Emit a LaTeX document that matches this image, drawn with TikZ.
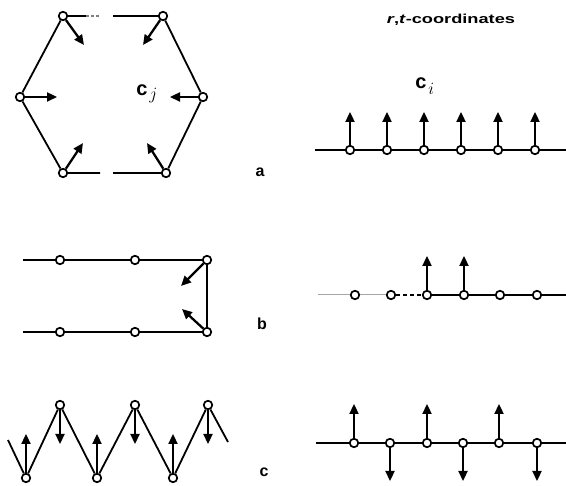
\documentclass[tikz,border=0pt]{standalone}
\usepackage{fontspec}
\setmainfont{Liberation Sans}
\usetikzlibrary{arrows.meta,positioning}

\begin{document}
\begin{tikzpicture}[x=1pt, y=-1pt, >={Triangle[length=10pt,width=9pt]},
    site/.style={circle, draw, fill=white, line width=1.7pt, inner sep=0pt, minimum size=8.5pt},
    bond/.style={line width=1.8pt},
    faint/.style={line width=1pt, gray!70},
    spin/.style={line width=2.3pt, ->},
    lbl/.style={font=\bfseries\fontsize{16}{16}\selectfont},
    vec/.style={font=\bfseries\fontsize{20}{20}\selectfont, inner sep=0pt}]
  \useasboundingbox (0,0) rectangle (566,486);

  % (a) hexagonal ring
  \node [site] (h1) at (63,16) {};
  \node [site] (h2) at (163,16) {};
  \node [site] (h3) at (203,97) {};
  \node [site] (h4) at (166,173) {};
  \node [site] (h5) at (63,173) {};
  \node [site] (h6) at (20,97) {};
  \coordinate (ht1) at (86,16);
  \coordinate (ht2) at (100,16);
  \coordinate (ht3) at (113,16);
  \coordinate (hb1) at (100,173);
  \coordinate (hb2) at (113,173);
  \draw [bond] (h1) -- (ht1);
  \draw [bond, gray, dash pattern=on 3pt off 2pt] (ht1) -- (ht2);
  \draw [bond] (ht3) -- (h2) -- (h3) -- (h4) -- (hb2);
  \draw [bond] (hb1) -- (h5) -- (h6) -- (h1);
  \coordinate (s1) at (84,45);
  \coordinate (s2) at (143,45);
  \coordinate (s3) at (170,97);
  \coordinate (s4) at (147,143);
  \coordinate (s5) at (83,143);
  \coordinate (s6) at (57,97);
  \foreach \i in {1,...,6}
    \draw [spin] (h\i) -- (s\i);
  \node [vec] (cj) at (142,90) {c};
  \node [right=-2pt of cj.south east, anchor=west, font=\fontsize{16}{16}\selectfont] (cjs) {$j$};
  \node [lbl] (la) at (260,172) {a};

  % (a) r,t-coordinates
  \node [font=\bfseries\fontsize{13}{13}\selectfont, xscale=1.4] (title) at (451,20) {\textit{r},\textit{t}-coordinates};
  \node [vec] (ci) at (421,83) {c};
  \node [right=-2pt of ci.south east, anchor=west, font=\fontsize{16}{16}\selectfont] (cis) {$i$};
  \coordinate (al) at (315,150);
  \coordinate (ar) at (566,150);
  \foreach \i/\x in {1/350,2/387,3/424,4/461,5/498,6/535} {
    \node [site] (a\i) at (\x,150) {};
    \coordinate (ua\i) at (\x,112);
  }
  \draw [bond] (al) -- (a1) -- (a2) -- (a3) -- (a4) -- (a5) -- (a6) -- (ar);
  \foreach \i in {1,...,6}
    \draw [spin] (a\i) -- (ua\i);

  % (b) folded chain
  \foreach \i/\x in {1/60,2/135,3/207} {
    \node [site] (bt\i) at (\x,260) {};
    \node [site] (bb\i) at (\x,332) {};
  }
  \coordinate (btl) at (23,260);
  \coordinate (bbl) at (23,332);
  \draw [bond] (btl) -- (bt1) -- (bt2) -- (bt3) -- (bb3) -- (bb2) -- (bb1) -- (bbl);
  \coordinate (ub1) at (181,286);
  \coordinate (ub2) at (182,309);
  \draw [spin] (bt3) -- (ub1);
  \draw [spin] (bb3) -- (ub2);
  \node [lbl] (lb) at (262,324) {b};

  % (b) r,t-coordinates
  \coordinate (bl) at (318,295);
  \coordinate (br) at (566,295);
  \foreach \i/\x in {1/355,2/391,3/427,4/464,5/500,6/537}
    \node [site] (b\i) at (\x,295) {};
  \draw [faint] (bl) -- (b1) -- (b2);
  \draw [bond, dash pattern=on 4pt off 3pt] (b2) -- (b3);
  \draw [bond] (b3) -- (b4) -- (b5) -- (b6) -- (br);
  \coordinate (vb3) at (427,256);
  \coordinate (vb4) at (464,256);
  \draw [spin] (b3) -- (vb3);
  \draw [spin] (b4) -- (vb4);

  % (c) zigzag chain
  \foreach \i/\x in {1/60,2/135,3/208}
    \node [site] (zt\i) at (\x,405) {};
  \foreach \i/\x in {1/26,2/97,3/173}
    \node [site] (zb\i) at (\x,478) {};
  \coordinate (zl) at (8,440);
  \coordinate (zr) at (228,442);
  \draw [bond] (zl) -- (zb1) -- (zt1) -- (zb2) -- (zt2) -- (zb3) -- (zt3) -- (zr);
  \foreach \i/\x in {1/60,2/135,3/208} {
    \coordinate (dz\i) at (\x,444);
    \draw [spin] (zt\i) -- (dz\i);
  }
  \foreach \i/\x in {1/26,2/97,3/173} {
    \coordinate (uz\i) at (\x,434);
    \draw [spin] (zb\i) -- (uz\i);
  }
  \node [lbl] (lc) at (264,472) {c};

  % (c) r,t-coordinates
  \coordinate (cl) at (316,443);
  \coordinate (cr) at (566,443);
  \foreach \i/\x in {1/354,2/390,3/427,4/463,5/499,6/537}
    \node [site] (c\i) at (\x,443) {};
  \draw [bond] (cl) -- (c1) -- (c2) -- (c3) -- (c4) -- (c5) -- (c6) -- (cr);
  \foreach \i/\x in {1/354,3/427,5/499} {
    \coordinate (uc\i) at (\x,404);
    \draw [spin] (c\i) -- (uc\i);
  }
  \foreach \i/\x in {2/390,4/463,6/537} {
    \coordinate (dc\i) at (\x,481);
    \draw [spin] (c\i) -- (dc\i);
  }
\end{tikzpicture}
\end{document}
